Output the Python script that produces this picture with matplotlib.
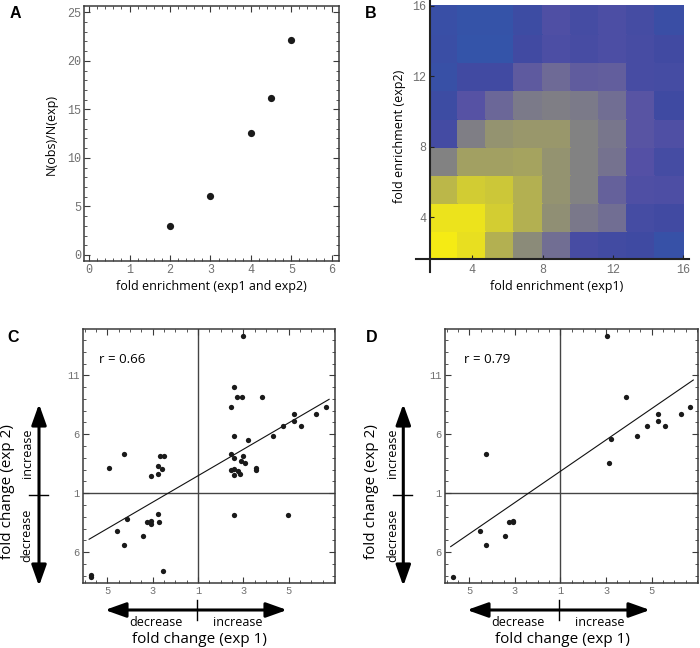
import numpy as np
import matplotlib
matplotlib.use('Agg')
import matplotlib.pyplot as plt
from matplotlib.colors import LinearSegmentedColormap
from matplotlib.patches import FancyArrowPatch
from matplotlib.ticker import MultipleLocator, FixedLocator

# ---------------- data ----------------
# Panel A
a_fold = [2, 3, 4, 4.5, 5]
a_ratio = [3.0, 6.1, 12.6, 16.2, 22.1]

# Panel B (rows bottom -> top, cols left -> right), relative density
b_edges = [1.6, 3.2, 4.8, 6.4, 8.0, 9.6, 11.2, 12.8, 14.4, 16.0]
b_values = [
    [1.00, 0.94, 0.72, 0.56, 0.42, 0.17, 0.14, 0.12, 0.05],
    [0.96, 0.96, 0.85, 0.72, 0.58, 0.47, 0.42, 0.16, 0.13],
    [0.75, 0.84, 0.82, 0.72, 0.60, 0.52, 0.35, 0.22, 0.21],
    [0.52, 0.66, 0.66, 0.67, 0.60, 0.52, 0.44, 0.25, 0.16],
    [0.15, 0.50, 0.60, 0.62, 0.62, 0.52, 0.46, 0.27, 0.22],
    [0.10, 0.26, 0.38, 0.48, 0.50, 0.48, 0.42, 0.27, 0.12],
    [0.06, 0.13, 0.13, 0.31, 0.40, 0.32, 0.33, 0.17, 0.16],
    [0.08, 0.02, 0.02, 0.13, 0.20, 0.17, 0.20, 0.17, 0.13],
    [0.07, 0.03, 0.03, 0.10, 0.22, 0.16, 0.20, 0.16, 0.08],
]
b_ticks = [4, 8, 12, 16]

# Panel C (signed fold change, 0 == "1")
c_x = [2.01, 1.61, 1.74, 1.94, 2.82, 1.48, 5.64, 5.23, 4.22, 4.22, 3.74, 4.53,
       3.32, 1.61, 2.20, 1.48, 1.61, 2.01, 1.92, 2.10, 1.47, 1.61, 1.75, 1.85,
       1.61, 2.55, 2.55,
       1.61, 3.97,
       -3.94, -3.28, -2.07, -1.74, -1.74, -1.58, -1.67, -1.51,
       -3.11, -3.56, -3.28, -2.43, -2.25, -2.07, -2.07, -1.74, -1.71, -1.52,
       -4.70, -4.70]
c_y = [13.36, 9.03, 8.12, 8.12, 8.12, 7.34, 7.34, 6.70, 6.70, 6.15, 5.68, 5.68,
       4.88, 4.88, 4.55, 3.33, 3.00, 3.16, 2.70, 2.55, 1.98, 2.08, 1.88, 1.65,
       1.55, 2.12, 1.97,
       -1.87, -1.81,
       2.12, 3.33, 1.47, 1.61, 2.31, 2.03, 3.16, 3.16,
       -2.15, -3.17, -4.35, -3.62, -2.46, -2.35, -2.58, -1.78, -2.41, -6.58,
       -6.95, -7.10]
c_fit = (1.12, 1.48)          # slope, intercept
c_fit_range = [-4.80, 5.79]
c_r = "r = 0.66"

# Panel D
d_x = [2.05, 2.86, 5.69, 5.28, 4.29, 4.29, 3.78, 4.57, 3.36, 2.22, 2.12,
       -3.29, -3.55, -3.29, -2.24, -2.07, -2.07, -2.42, -4.72]
d_y = [13.33, 8.14, 7.34, 6.72, 6.72, 6.15, 5.68, 5.68, 4.88, 4.57, 2.57,
       3.33, -3.17, -4.35, -2.46, -2.46, -2.32, -3.64, -7.06]
d_fit = (1.326, 1.87)
d_fit_range = [-4.82, 5.83]
d_r = "r = 0.79"

fc_xticks = [-4, -2, 0, 2, 4]
fc_xticklabels = ["5", "3", "1", "3", "5"]
fc_yticks = [-5, 0, 5, 10]
fc_yticklabels = ["6", "1", "6", "11"]

# ---------------- style ----------------
MONO = 'Liberation Mono'
SANS = 'Open Sans'
plt.rcParams['font.family'] = [SANS, 'DejaVu Sans']

fig = plt.figure(figsize=(7, 6.48), dpi=100)
W, H = 700, 648


def px_axes(l, t, r, b):
    return fig.add_axes([l / W, 1 - b / H, (r - l) / W, (b - t) / H])


def frame_style(ax, lsize):
    for s in ax.spines.values():
        s.set_color('#3a3a3a')
        s.set_linewidth(1.1)
    ax.tick_params(which='both', direction='in', top=True, right=True,
                   color='#3a3a3a', labelcolor='#707070', labelsize=lsize, pad=2.5)
    ax.tick_params(which='major', length=4, width=0.8)
    ax.tick_params(which='minor', length=2, width=0.6)
    for lab in ax.get_xticklabels() + ax.get_yticklabels():
        lab.set_fontfamily(MONO)


# ---------------- Panel A ----------------
axA = px_axes(84.3, 6, 339, 260.7)
axA.plot(a_fold, a_ratio, 'o', color='#1a1a1a', ms=5.2, mec='none')
axA.set_xlim(-0.12, 6.18)
axA.set_ylim(-0.59, 25.65)
axA.xaxis.set_major_locator(MultipleLocator(1))
axA.xaxis.set_minor_locator(MultipleLocator(0.2))
axA.yaxis.set_major_locator(MultipleLocator(5))
axA.yaxis.set_minor_locator(MultipleLocator(1))
frame_style(axA, 8.5)
axA.set_xlabel('fold enrichment (exp1 and exp2)', fontsize=9, va='center')
axA.xaxis.set_label_coords(0.5, -0.102)
axA.set_ylabel('N(obs)/N(exp)', fontsize=9, va='center')
axA.yaxis.set_label_coords(-0.128, 0.494)

# ---------------- Panel B ----------------
cmap = LinearSegmentedColormap.from_list('by', [
    (0.00, (50/255, 86/255, 170/255)),
    (0.12, (63/255, 74/255, 162/255)),
    (0.25, (84/255, 80/255, 165/255)),
    (0.40, (110/255, 106/255, 150/255)),
    (0.52, (130/255, 130/255, 130/255)),
    (0.65, (160/255, 158/255, 100/255)),
    (0.80, (200/255, 195/255, 60/255)),
    (1.00, (245/255, 235/255, 20/255)),
])
axB = px_axes(416, 0, 689.3, 271.7)
axB.pcolormesh(b_edges, b_edges, np.array(b_values), cmap=cmap, vmin=0, vmax=1,
               shading='flat', edgecolor='face', linewidth=0.3)
axB.set_xlim(0.8, 16.34)
axB.set_ylim(0.9, 16.34)
for side in ['top', 'right']:
    axB.spines[side].set_visible(False)
axB.spines['left'].set_position(('data', b_edges[0]))
axB.spines['bottom'].set_position(('data', b_edges[0]))
for side in ['left', 'bottom']:
    axB.spines[side].set_color('#222222')
    axB.spines[side].set_linewidth(1.5)
axB.set_xticks(b_ticks)
axB.set_yticks(b_ticks)
axB.tick_params(direction='in', length=3, width=0.8, color='#222222',
                labelcolor='#707070', labelsize=8.5, pad=3)
for lab in axB.get_xticklabels() + axB.get_yticklabels():
    lab.set_fontfamily(MONO)
axB.set_xlabel('fold enrichment (exp1)', fontsize=9, va='center')
axB.xaxis.set_label_coords(0.515, -0.056)
axB.set_ylabel('fold enrichment (exp2)', fontsize=9, va='center')
axB.yaxis.set_label_coords(-0.061, 0.497)


# ---------------- Panels C & D ----------------
def fc_panel(rect, xs, ys, fit, fit_range, rtext, rx):
    ax = px_axes(*rect)
    ax.axvline(0, color='#444444', lw=1.0, zorder=1)
    ax.axhline(0, color='#444444', lw=1.0, zorder=1)
    fx = np.array(fit_range)
    ax.plot(fx, fit[0] * fx + fit[1], color='#111111', lw=0.8, zorder=2)
    ax.plot(xs, ys, 'o', color='#1a1a1a', ms=3.8, mec='none', zorder=3)
    ax.set_xlim(-5.07, 6.05)
    ax.set_ylim(-7.58, 13.9)
    ax.xaxis.set_major_locator(FixedLocator(fc_xticks))
    ax.set_xticklabels(fc_xticklabels)
    ax.xaxis.set_minor_locator(MultipleLocator(0.5))
    ax.yaxis.set_major_locator(FixedLocator(fc_yticks))
    ax.set_yticklabels(fc_yticklabels)
    ax.yaxis.set_minor_locator(MultipleLocator(1))
    frame_style(ax, 7.5)
    ax.text(rx, 11.3, rtext, fontsize=9.5, va='center', ha='left')
    ax.set_xlabel('fold change (exp 1)', fontsize=11, va='center')
    ax.xaxis.set_label_coords(0.464, -0.226)
    ax.set_ylabel('fold change (exp 2)', fontsize=11, va='center')
    return ax


axC = fc_panel((83, 329.3, 335, 582.7), c_x, c_y, c_fit, c_fit_range, c_r, -4.35)
axC.yaxis.set_label_coords(-0.300, 0.358)
axD = fc_panel((445, 329.3, 698.3, 582.7), d_x, d_y, d_fit, d_fit_range, d_r, -4.23)
axD.yaxis.set_label_coords(-0.290, 0.358)

# ---------------- overlay: panel letters, arrows ----------------
ov = fig.add_axes([0, 0, 1, 1], zorder=-1)
ov.set_xlim(0, W)
ov.set_ylim(H, 0)
ov.axis('off')

for letter, (lx, ly) in zip('ABCD', [(15, 13), (371, 13), (13.5, 337), (371.5, 337)]):
    ov.text(lx, ly, letter, fontsize=11.5, fontweight='bold', ha='center', va='center',
            family=['Liberation Sans', 'DejaVu Sans'])


def double_arrow(p0, p1):
    a = FancyArrowPatch(p0, p1, arrowstyle='<|-|>,head_length=1.4,head_width=0.5',
                        mutation_scale=9, lw=2.2, color='black',
                        shrinkA=0, shrinkB=0)
    ov.add_patch(a)


def arrows(hx0, hx1, hmid, vx, vy0, vy1, vmid, txt_dx):
    # horizontal (exp 1)
    double_arrow((hx0, 610), (hx1, 610))
    ov.plot([hmid, hmid], [600, 620], color='black', lw=1.0)
    ov.text(hmid - 41, 622.7, 'decrease', fontsize=9, ha='center', va='center')
    ov.text(hmid + 41, 622.7, 'increase', fontsize=9, ha='center', va='center')
    # vertical (exp 2)
    double_arrow((vx, vy1), (vx, vy0))
    ov.plot([vx - 10, vx + 9], [vmid, vmid], color='black', lw=1.0)
    ov.text(vx + txt_dx, 453, 'increase', fontsize=9, ha='center', va='center', rotation=90)
    ov.text(vx + txt_dx, 535, 'decrease', fontsize=9, ha='center', va='center', rotation=90)


arrows(105, 287, 197, 39, 404, 586, 495, -12)
arrows(467, 650, 559, 403.3, 404, 586, 495, -11)

fig.savefig('out.png', dpi=100)
